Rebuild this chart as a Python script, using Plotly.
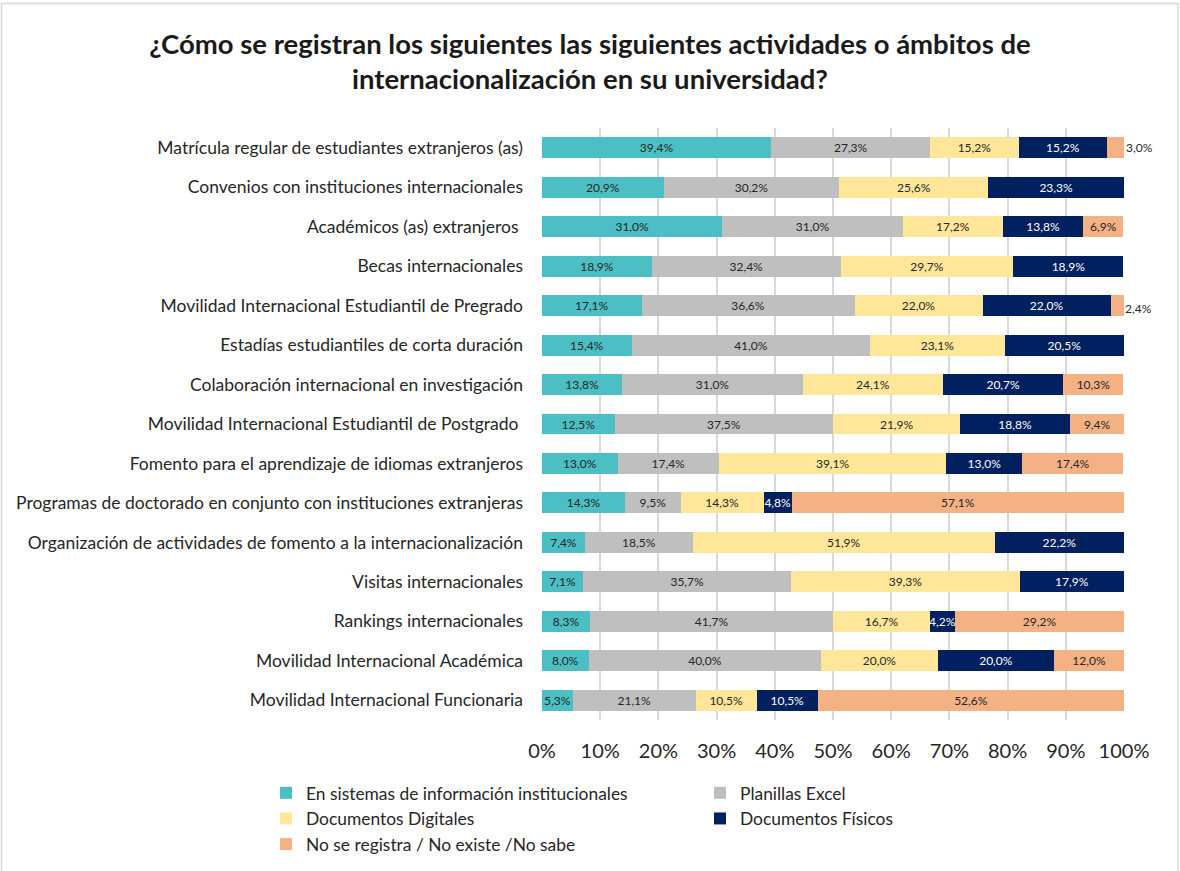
import plotly.graph_objects as go

categories = [
    "Matrícula regular de estudiantes extranjeros (as)",
    "Convenios con instituciones internacionales",
    "Académicos (as) extranjeros ",
    "Becas internacionales",
    "Movilidad Internacional Estudiantil de Pregrado",
    "Estadías estudiantiles de corta duración",
    "Colaboración internacional en investigación",
    "Movilidad Internacional Estudiantil de Postgrado ",
    "Fomento para el aprendizaje de idiomas extranjeros",
    "Programas de doctorado en conjunto con instituciones extranjeras",
    "Organización de actividades de fomento a la internacionalización",
    "Visitas internacionales",
    "Rankings internacionales",
    "Movilidad Internacional Académica",
    "Movilidad Internacional Funcionaria",
]

sistemas = [39.4, 20.9, 31.0, 18.9, 17.1, 15.4, 13.8, 12.5, 13.0, 14.3, 7.4, 7.1, 8.3, 8.0, 5.3]
excel = [27.3, 30.2, 31.0, 32.4, 36.6, 41.0, 31.0, 37.5, 17.4, 9.5, 18.5, 35.7, 41.7, 40.0, 21.1]
digitales = [15.2, 25.6, 17.2, 29.7, 22.0, 23.1, 24.1, 21.9, 39.1, 14.3, 51.9, 39.3, 16.7, 20.0, 10.5]
fisicos = [15.2, 23.3, 13.8, 18.9, 22.0, 20.5, 20.7, 18.8, 13.0, 4.8, 22.2, 17.9, 4.2, 20.0, 10.5]
no_registra = [3.0, 0.0, 6.9, 0.0, 2.4, 0.0, 10.3, 9.4, 17.4, 57.1, 0.0, 0.0, 29.2, 12.0, 52.6]

series_names = [
    "En sistemas de información institucionales",
    "Planillas Excel",
    "Documentos Digitales",
    "Documentos Físicos",
    "No se registra / No existe /No sabe",
]
series_values = [sistemas, excel, digitales, fisicos, no_registra]
colors = ["#4BBFC3", "#BFBFBF", "#FFE699", "#002060", "#F4B183"]
text_colors = ["#262626", "#262626", "#262626", "#FFFFFF", "#262626"]

tick_vals = [0, 10, 20, 30, 40, 50, 60, 70, 80, 90, 100]
tick_text = ["0%", "10%", "20%", "30%", "40%", "50%", "60%", "70%", "80%", "90%", "100%"]

FONT = "Lato"
SMALL = 5.0  # end segments narrower than this get their label outside


def fmt(v):
    return ("%.1f" % v).replace(".", ",") + "%" if v > 0 else ""


fig = go.Figure()
last = len(series_names) - 1
for i, (name, vals, col, tcol) in enumerate(zip(series_names, series_values, colors, text_colors)):
    texts = ["" if (i == last and v < SMALL) else fmt(v) for v in vals]
    fig.add_trace(go.Bar(
        y=categories, x=vals, name=name, orientation="h",
        marker=dict(color=col, line=dict(width=0)),
        text=texts,
        textposition="inside",
        insidetextanchor="middle",
        textangle=0,
        insidetextfont=dict(color=tcol, size=12, family=FONT),
        hoverinfo="skip",
    ))

# labels of very small end segments sit just right of the bar end
annotations = []
for j, cat in enumerate(categories):
    v = no_registra[j]
    if 0 < v < SMALL:
        total = min(sum(s[j] for s in series_values), tick_vals[-1])
        annotations.append(dict(
            x=total, y=cat, xref="x", yref="y", text=fmt(v),
            showarrow=False, xanchor="left", xshift=-1 if v < 2.8 else 0,
            yshift=-3 if v < 2.8 else 0,
            font=dict(size=12, family=FONT, color="#262626"),
        ))

W, H = 1180, 871
ml, mr, mt, mb = 542, 56, 128, 151
pw, ph = W - ml - mr, H - mt - mb

fig.update_layout(
    width=W, height=H,
    barmode="stack",
    bargap=0.47,
    paper_bgcolor="white", plot_bgcolor="white",
    margin=dict(l=ml, r=mr, t=mt, b=mb, pad=0, autoexpand=False),
    font=dict(family=FONT, color="#262626"),
    title=dict(
        text="<b>¿Cómo se registran los siguientes las siguientes actividades o ámbitos de<br>internacionalización en su universidad?</b>",
        x=0.5, xanchor="center", y=1 - 53.5 / H, yanchor="middle",
        font=dict(size=27.5, family=FONT, color="#1a1a1a"),
    ),
    uniformtext=dict(mode="show", minsize=12),
    xaxis=dict(
        range=[0, 100], tickvals=tick_vals, ticktext=tick_text,
        showgrid=True, gridcolor="#D9D9D9", gridwidth=1.5,
        zeroline=False, showline=False, automargin=False,
        tickfont=dict(size=20, family=FONT, color="#262626"),
        ticks="", ticklabelstandoff=17,
    ),
    yaxis=dict(
        autorange="reversed", showgrid=False, showline=False, automargin=False,
        tickfont=dict(size=17.5, family=FONT, color="#262626"),
        ticks="", ticklabelstandoff=18,
    ),
    legend=dict(
        orientation="h",
        x=(266 - ml) / pw, xanchor="left",
        y=-(775 - (mt + ph)) / ph, yanchor="top",
        entrywidth=389, entrywidthmode="pixels",
        font=dict(size=17.4, family=FONT, color="#262626"),
        traceorder="normal", itemwidth=30, tracegroupgap=0,
    ),
    annotations=annotations,
    shapes=[dict(
        type="rect", xref="paper", yref="paper",
        x0=(1.5 - ml) / pw, x1=(1178 - ml) / pw,
        y0=-(mb + 10) / ph, y1=1 + (mt - 3.5) / ph,
        line=dict(color="#D9D9D9", width=1.5), fillcolor="rgba(0,0,0,0)", layer="below",
    )],
)

fig.write_html(
    "out.html",
    config={"displayModeBar": False},
    post_script="document.body.style.margin='0';",
)
